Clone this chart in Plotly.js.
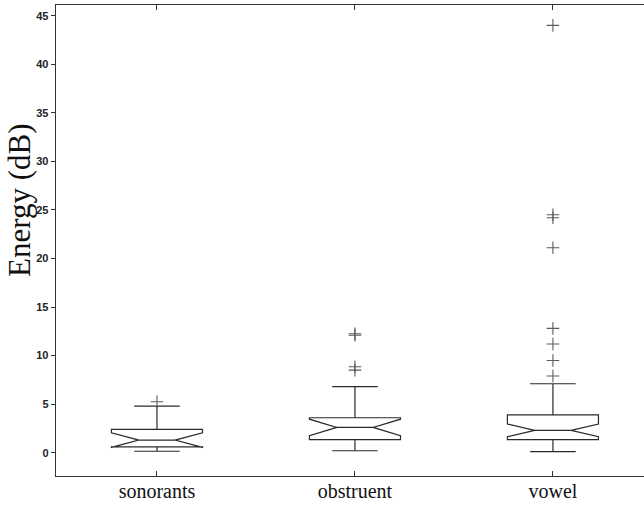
<!DOCTYPE html>
<html>
<head>
<meta charset="utf-8">
<script src="https://cdn.plot.ly/plotly-3.0.1.min.js"></script>
<style>html,body{margin:0;padding:0;background:#fff;}#chart{width:644px;height:505px;}</style>
</head>
<body>
<div id="chart"></div>
<script>
// Categories
var categories = ['sonorants', 'obstruent', 'vowel'];
// Box statistics (dB)
var q1Values = [0.6, 1.35, 1.35];
var medianValues = [1.3, 2.6, 2.3];
var q3Values = [2.4, 3.6, 3.9];
var lowerWhisker = [0.15, 0.2, 0.1];
var upperWhisker = [4.8, 6.8, 7.1];
var notchHalfSpan = [0.75, 0.85, 0.65];
// Outliers (category, value)
var outlierCategory = ['sonorants', 'obstruent', 'obstruent', 'obstruent', 'obstruent',
  'vowel', 'vowel', 'vowel', 'vowel', 'vowel', 'vowel', 'vowel', 'vowel'];
var outlierValues = [5.25, 12.25, 12.1, 8.85, 8.5,
  44.0, 24.5, 24.2, 21.1, 12.8, 11.2, 9.5, 7.9];
// Axis ticks
var yTickValues = [0, 5, 10, 15, 20, 25, 30, 35, 40, 45];
var yAxisLabel = 'Energy (dB)';

var boxTrace = {
  type: 'box',
  x: categories,
  q1: q1Values,
  median: medianValues,
  q3: q3Values,
  lowerfence: lowerWhisker,
  upperfence: upperWhisker,
  notchspan: notchHalfSpan,
  notched: true,
  notchwidth: 0.3,
  width: 0.46,
  whiskerwidth: 0.5,
  boxpoints: false,
  line: {color: '#2a2a2a', width: 1.2},
  fillcolor: 'rgba(255,255,255,0)',
  hoverinfo: 'skip',
  showlegend: false
};

var outlierTrace = {
  type: 'scatter',
  mode: 'markers',
  x: outlierCategory,
  y: outlierValues,
  marker: {symbol: 'cross-thin-open', size: 9, color: '#5a5a5a', line: {color: '#5a5a5a', width: 1.1}},
  hoverinfo: 'skip',
  showlegend: false
};

var layout = {
  width: 644,
  height: 505,
  margin: {l: 56, r: 0, t: 5, b: 29},
  paper_bgcolor: '#fff',
  plot_bgcolor: '#fff',
  showlegend: false,
  xaxis: {
    type: 'category',
    categoryorder: 'array',
    categoryarray: categories,
    range: [-0.51, 2.46],
    showgrid: false,
    zeroline: false,
    showline: true,
    linecolor: '#333',
    linewidth: 1.3,
    mirror: 'ticks',
    ticks: 'inside',
    ticklen: 5,
    tickcolor: '#333',
    ticklabelstandoff: -3,
    tickfont: {family: 'Liberation Serif, Times New Roman, serif', size: 20, color: '#111'}
  },
  yaxis: {
    range: [-2.4, 46.1],
    tickvals: yTickValues,
    ticktext: yTickValues.map(String),
    showgrid: false,
    zeroline: false,
    showline: true,
    linecolor: '#333',
    linewidth: 1.3,
    ticks: 'outside',
    ticklen: 4,
    tickcolor: '#333',
    tickfont: {family: 'Liberation Sans, Arial, sans-serif', size: 11, color: '#222', weight: 'bold'}
  },
  annotations: [{
    text: yAxisLabel,
    xref: 'paper', yref: 'paper',
    x: -0.0612, y: 0.586,
    xanchor: 'center', yanchor: 'middle',
    textangle: -90,
    showarrow: false,
    font: {family: 'Liberation Serif, Times New Roman, serif', size: 31, color: '#111'}
  }]
};

Plotly.newPlot('chart', [boxTrace, outlierTrace], layout, {displayModeBar: false, staticPlot: true});
</script>
</body>
</html>
